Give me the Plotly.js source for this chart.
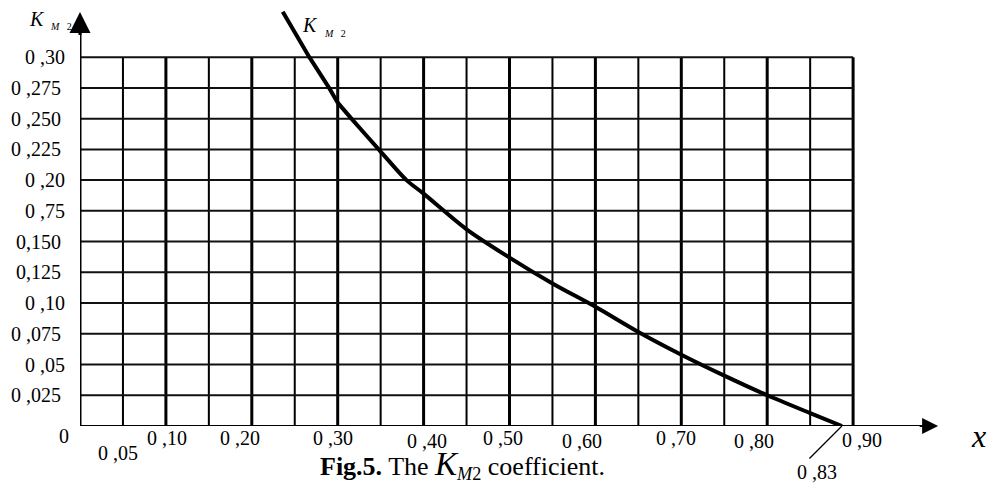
<!DOCTYPE html>
<html>
<head>
<meta charset="utf-8">
<script src="https://cdn.plot.ly/plotly-3.0.1.min.js"></script>
<style>html,body{margin:0;padding:0;background:#fff;}#chart{width:993px;height:486px;}</style>
</head>
<body>
<div id="chart"></div>
<script>
// ---- data ----
var kx = [0.236, 0.267, 0.290, 0.300, 0.316, 0.349, 0.380, 0.400, 0.450, 0.500, 0.550, 0.600, 0.650, 0.700, 0.750, 0.800, 0.850, 0.887];
var ky = [0.337, 0.300, 0.275, 0.263, 0.250, 0.224, 0.200, 0.189, 0.160, 0.137, 0.116, 0.097, 0.0765, 0.058, 0.041, 0.025, 0.0105, 0.000];

var xGrid = [0.05, 0.10, 0.15, 0.20, 0.25, 0.30, 0.35, 0.40, 0.45, 0.50, 0.55, 0.60, 0.65, 0.70, 0.75, 0.80, 0.85, 0.90];
var yGrid = [0.025, 0.05, 0.075, 0.10, 0.125, 0.15, 0.175, 0.20, 0.225, 0.25, 0.275, 0.30];

var yTickVals = [0.30, 0.275, 0.25, 0.225, 0.20, 0.175, 0.15, 0.125, 0.10, 0.075, 0.05, 0.025];
var yTickText = ['0 ,30', '0 ,275', '0 ,250', '0 ,225', '0 ,20', '0 ,75', '0,150', '0,125', '0 ,10', '0 ,075', '0 ,05', '0 ,025'];

var xTickVals = [0, 0.05, 0.10, 0.20, 0.30, 0.40, 0.50, 0.60, 0.70, 0.80, 0.90];
var xTickText = ['0', '0 ,05', '0 ,10', '0 ,20', '0 ,30', '0 ,40', '0 ,50', '0 ,60', '0 ,70', '0 ,80', '0 ,90'];

var zeroLabel = '0 ,83';
var zeroX = 0.887;

// ---- label placement (pixels) ----
var xLabelDx = [-16, -5, 1, -12, -5, 3, -7, -13, -5, -13, 9];
var xLabelDy = [10, 27, 12, 12, 12, 15, 12, 15, 12, 15, 14];

var FONT = '"Liberation Serif", "Times New Roman", serif';
var TICK = 20;
var shapes = [];
xGrid.forEach(function (v) {
  var thick = Math.abs(Math.round(v * 100) % 10) < 1e-6;
  shapes.push({type: 'line', xref: 'x', yref: 'y', x0: v, x1: v, y0: 0, y1: 0.30,
    line: {color: '#000', width: thick ? 3 : 2}, layer: 'below'});
});
yGrid.forEach(function (v) {
  shapes.push({type: 'line', xref: 'x', yref: 'y', x0: 0, x1: 0.90, y0: v, y1: v,
    line: {color: '#111', width: 2}, layer: 'below'});
});
// axes
shapes.push({type: 'line', xref: 'x', yref: 'y', x0: 0, x1: 0.99, y0: 0, y1: 0, line: {color: '#000', width: 2}});
shapes.push({type: 'line', xref: 'x', yref: 'y', x0: 0, x1: 0, y0: 0, y1: 0.33, line: {color: '#000', width: 3}});

var ann = [];
yTickVals.forEach(function (v, i) {
  var dec = yTickText[i].split(',')[1].length;
  ann.push({x: 0, y: v, xref: 'x', yref: 'y', text: yTickText[i], showarrow: false,
    xanchor: 'right', yanchor: 'middle', xshift: dec >= 3 ? -17 : -13,
    font: {family: FONT, size: TICK, color: '#000'}});
});
xTickVals.forEach(function (v, i) {
  ann.push({x: v, y: 0, xref: 'x', yref: 'y', text: xTickText[i], showarrow: false,
    xanchor: 'center', yanchor: 'middle', xshift: xLabelDx[i], yshift: -xLabelDy[i],
    font: {family: FONT, size: TICK, color: '#000'}});
});
// 0,83 label with leader line
ann.push({x: zeroX, y: 0, xref: 'x', yref: 'y', text: ' ', showarrow: true, arrowhead: 0,
  arrowwidth: 1.3, arrowcolor: '#000', ax: -34, ay: 34, axref: 'pixel', ayref: 'pixel', standoff: 0, startstandoff: 0,
  font: {size: 1}});
ann.push({x: zeroX, y: 0, xref: 'x', yref: 'y', text: zeroLabel, showarrow: false,
  xanchor: 'center', yanchor: 'middle', xshift: -25, yshift: -46,
  font: {family: FONT, size: TICK, color: '#000'}});
// arrows
ann.push({x: 0.999, y: 0, xref: 'x', yref: 'y', text: ' ', showarrow: true, arrowhead: 2,
  arrowsize: 1.6, arrowwidth: 2, arrowcolor: '#000', ax: -20, ay: 0, standoff: 0, font: {size: 1}});
ann.push({x: 0, y: 0.3368, xref: 'x', yref: 'y', text: ' ', showarrow: true, arrowhead: 2,
  arrowsize: 1.4, arrowwidth: 3, arrowcolor: '#000', ax: 0, ay: 25, standoff: 0, font: {size: 1}});
// axis titles
ann.push({x: 1.046, y: 0, xref: 'paper', yref: 'paper', text: '<i>x</i>', showarrow: false,
  xanchor: 'center', yanchor: 'middle', yshift: -10, font: {family: FONT, size: 32, color: '#000'}});
ann.push({x: 0, y: 0.34, xref: 'x', yref: 'y', text: '<i>K</i>', showarrow: false,
  xanchor: 'left', yanchor: 'middle', xshift: -53, yshift: -11, font: {family: FONT, size: 20, color: '#000'}});
ann.push({x: 0, y: 0.34, xref: 'x', yref: 'y', text: '<i>M</i>&nbsp;&nbsp;&nbsp;2', showarrow: false,
  xanchor: 'left', yanchor: 'middle', xshift: -32, yshift: -18, font: {family: FONT, size: 10, color: '#000'}});
// curve label
ann.push({x: 0.2563, y: 0.34, xref: 'x', yref: 'y', text: '<i>K</i>', showarrow: false,
  xanchor: 'left', yanchor: 'middle', yshift: -17, font: {family: FONT, size: 20, color: '#000'}});
ann.push({x: 0.2819, y: 0.34, xref: 'x', yref: 'y', text: '<i>M</i>&nbsp;&nbsp;&nbsp;2', showarrow: false,
  xanchor: 'left', yanchor: 'middle', yshift: -25, font: {family: FONT, size: 10, color: '#000'}});
// caption
ann.push({x: 0.445, y: -0.093, xref: 'paper', yref: 'paper', showarrow: false, xanchor: 'center', yanchor: 'middle',
  text: "<b>Fig.5.</b> The <span style='font-size:33px'><i>K</i></span><sub><i>M</i>2</sub> coefficient.",
  font: {family: FONT, size: 26, color: '#000'}});

var n = 4;
var trace1 = {x: kx.slice(0, n), y: ky.slice(0, n), type: 'scatter', mode: 'lines',
  line: {color: '#000', width: 4}, hoverinfo: 'skip', showlegend: false};
var trace2 = {x: kx.slice(n - 1), y: ky.slice(n - 1), type: 'scatter', mode: 'lines',
  line: {color: '#000', width: 4, shape: 'spline', smoothing: 0.8}, hoverinfo: 'skip', showlegend: false};

var layout = {
  width: 993, height: 486,
  margin: {l: 80, r: 54, t: 8, b: 60},
  paper_bgcolor: '#fff', plot_bgcolor: '#fff',
  xaxis: {range: [0, 1.0], visible: false, fixedrange: true},
  yaxis: {range: [0, 0.34], visible: false, fixedrange: true},
  shapes: shapes, annotations: ann, showlegend: false
};
Plotly.newPlot('chart', [trace1, trace2], layout, {staticPlot: true, displayModeBar: false});
</script>
</body>
</html>
